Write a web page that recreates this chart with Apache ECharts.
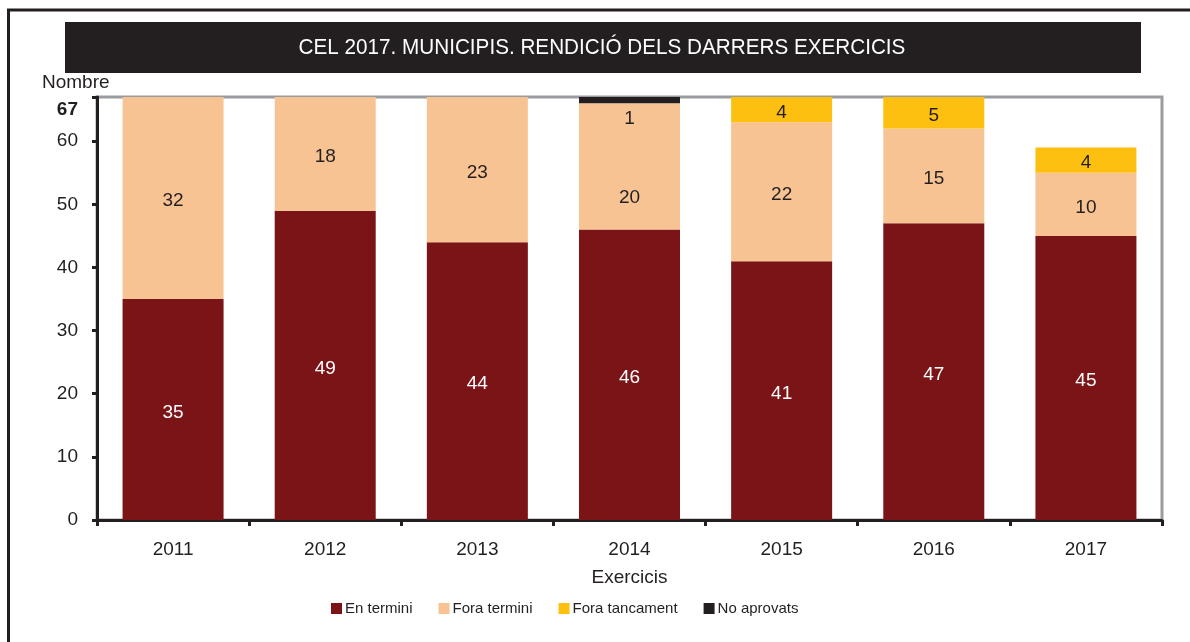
<!DOCTYPE html>
<html>
<head>
<meta charset="utf-8">
<script src="https://cdn.jsdelivr.net/npm/echarts@6/dist/echarts.min.js"></script>
<style>
html,body{margin:0;padding:0;background:#fff;}
#chart{width:1190px;height:642px;}
</style>
</head>
<body>
<div id="chart"></div>
<script>
const categories = ['2011','2012','2013','2014','2015','2016','2017'];
const enTermini = [35, 49, 44, 46, 41, 47, 45];
const foraTermini = [32, 18, 23, 20, 22, 15, 10];
const foraTancament = [0, 0, 0, 0, 4, 5, 4];
const noAprovats = [0, 0, 0, 1, 0, 0, 0];
const seriesNames = ['En termini', 'Fora termini', 'Fora tancament', 'No aprovats'];
const yTop = 67;

const FONT = '"Liberation Sans", Arial, sans-serif';
const TXT = '#231f20';
const colors = ['#7b1416', '#f8c393', '#fdc010', '#231f20'];

const chart = echarts.init(document.getElementById('chart'));

function buildData(arr, seriesIdx) {
  return arr.map((v, i) => {
    const item = { value: v };
    // 2014 labels placed as in the reference
    if (seriesIdx === 3 && v > 0) {
      item.label = { position: 'bottom', distance: 6, offset: [0, 0], color: TXT };
    }
    if (seriesIdx === 1 && noAprovats[i] > 0) {
      item.label = { offset: [0, 31] };
    }
    return item;
  });
}

const allData = [enTermini, foraTermini, foraTancament, noAprovats];

const series = allData.map((arr, si) => ({
  name: seriesNames[si],
  type: 'bar',
  stack: 'total',
  barWidth: 101,
  itemStyle: { color: colors[si] },
  label: {
    show: true,
    position: 'inside',
    offset: [0, 3],
    fontFamily: FONT,
    fontSize: 19,
    color: si === 0 ? '#ffffff' : TXT,
    formatter: p => (p.value > 0 ? p.value : '')
  },
  emphasis: { disabled: true },
  data: buildData(arr, si)
}));

chart.setOption({
  animation: false,
  backgroundColor: '#ffffff',
  grid: {
    left: 97, right: 28, top: 97, bottom: 122,
    show: true, borderColor: '#9a9b9f', borderWidth: 3, backgroundColor: 'transparent'
  },
  graphic: [
    { type: 'polyline', shape: { points: [[1190, 10], [8.5, 10], [8.5, 642]] },
      style: { stroke: '#231f20', lineWidth: 3, fill: null } },
    { type: 'rect', shape: { x: 65, y: 22, width: 1076, height: 51 },
      style: { fill: '#231f20' } },
    { type: 'text', x: 602, y: 48, scaleX: 0.94, style: {
        text: 'CEL 2017. MUNICIPIS. RENDICIÓ DELS DARRERS EXERCICIS',
        fill: '#ffffff', font: '22px ' + FONT, align: 'center', verticalAlign: 'middle' } },
    { type: 'text', x: 42, y: 73, style: {
        text: 'Nombre', fill: TXT, font: '19px ' + FONT } }
  ],
  legend: {
    data: seriesNames,
    left: 326, top: 596,
    icon: 'rect', itemWidth: 11, itemHeight: 11, itemGap: 26,
    textStyle: { fontFamily: FONT, fontSize: 15, color: TXT, padding: [0, 0, 0, -2] },
    selectedMode: false
  },
  xAxis: {
    type: 'category',
    data: categories,
    name: 'Exercicis',
    nameLocation: 'middle',
    nameGap: 48,
    nameTextStyle: { fontFamily: FONT, fontSize: 19, color: TXT },
    axisLine: { lineStyle: { color: '#231f20', width: 3 } },
    axisTick: { show: true, length: 6, lineStyle: { color: '#231f20', width: 3 } },
    axisLabel: { fontFamily: FONT, fontSize: 19, color: TXT, margin: 20 }
  },
  yAxis: {
    type: 'value',
    min: 0, max: yTop, interval: 10,
    splitLine: { show: false },
    axisLine: { show: true, lineStyle: { color: '#231f20', width: 3 } },
    axisTick: { show: true, length: 5, lineStyle: { color: '#231f20', width: 3 } },
    axisLabel: {
      fontFamily: FONT, fontSize: 19, color: TXT, margin: 19,
      formatter: v => (v === yTop ? '{b|' + v + '}' : '' + v),
      rich: { b: { fontFamily: FONT, fontSize: 19, fontWeight: 'bold', color: TXT, padding: [26, 0, 0, 0] } }
    }
  },
  series: series
});
</script>
</body>
</html>
